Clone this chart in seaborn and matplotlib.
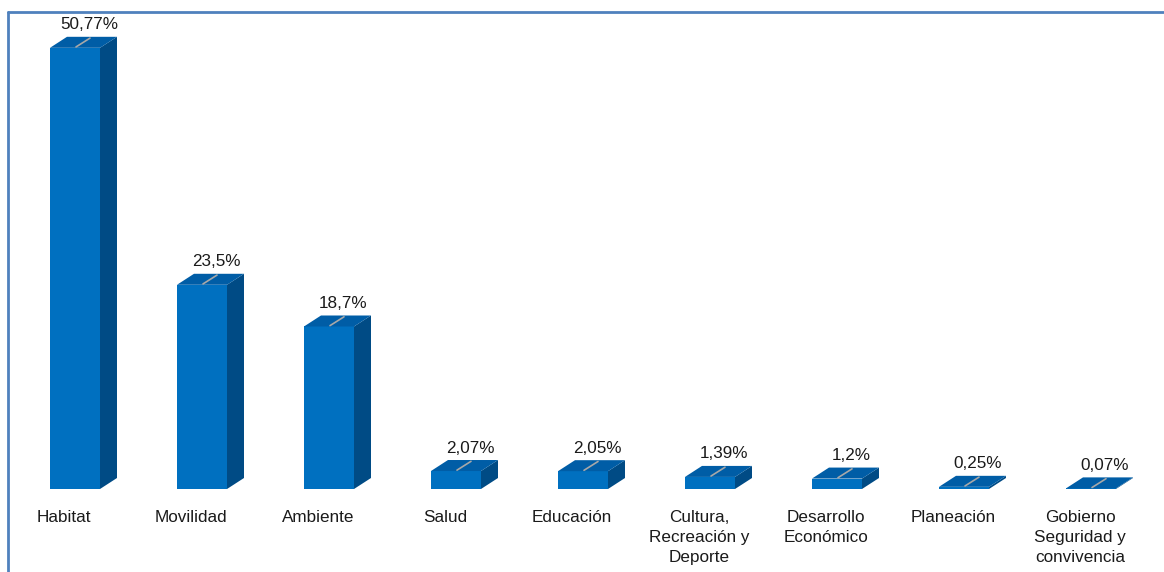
import matplotlib
matplotlib.use("Agg")
import matplotlib.pyplot as plt
import seaborn as sns
import pandas as pd
from matplotlib.patches import Polygon
from matplotlib.lines import Line2D

# data
categorias = ["Habitat", "Movilidad", "Ambiente", "Salud", "Educación",
              "Cultura,\nRecreación y\nDeporte", "Desarrollo\nEconómico",
              "Planeación", "Gobierno\nSeguridad y\nconvivencia"]
valores = [50.77, 23.5, 18.7, 2.07, 2.05, 1.39, 1.2, 0.25, 0.07]
etiquetas = ["50,77%", "23,5%", "18,7%", "2,07%", "2,05%", "1,39%", "1,2%", "0,25%", "0,07%"]

df = pd.DataFrame({"sector": categorias, "pct": valores})

sns.set_theme(style="white")
plt.rcParams["font.family"] = ["Liberation Sans", "DejaVu Sans"]

W, H = 1164, 572
fig = plt.figure(figsize=(W / 100, H / 100), dpi=100)
ax = fig.add_axes([0, 0, 1, 1])

# pixel geometry -> data units
step = 127.0          # px between bars
x0 = 75.0             # px centre of first bar
base = 489.0          # px baseline
ppu = 8.69            # px per percentage point

front = "#0070C0"
side = "#004B85"
top = "#005DA6"

sns.barplot(data=df, x="sector", y="pct", color=front, saturation=1,
            width=50 / step, linewidth=0, ax=ax)
ax.set_xlim(-x0 / step, (W - x0) / step)
ax.set_ylim(-(H - base) / ppu, base / ppu)
ax.axis("off")

dx = 17 / step
dy = 11 / ppu
fs = 12.3
for i, p in enumerate(ax.patches):
    xl = p.get_x()
    w = p.get_width()
    h = p.get_height()
    xr = xl + w
    ax.add_patch(Polygon([(xr, 0), (xr + dx, dy), (xr + dx, h + dy), (xr, h)],
                         closed=True, facecolor=side, edgecolor="none", zorder=3))
    ax.add_patch(Polygon([(xl, h), (xl + dx, h + dy), (xr + dx, h + dy), (xr, h)],
                         closed=True, facecolor=top, edgecolor="none", zorder=3))
    cx = xl + w / 2
    ax.plot([cx + 1 / step, cx + dx - 2 / step], [h + 0.1, h + dy - 0.15],
            color="#A8A8A8", lw=1.2, zorder=4)
    ax.text(cx + 14 / step, h + dy + 12 / ppu, etiquetas[i], ha="center", va="center",
            fontsize=fs, color="#1a1a1a", zorder=5)
    ax.text(cx - 11 / step, -21.5 / ppu, categorias[i], ha="center", va="top",
            fontsize=fs, color="#1a1a1a", linespacing=1.38)

# outer frame (cut at right/bottom like the screenshot)
frame = "#4F81BD"
fig.add_artist(Line2D([7.5 / W, 1.0], [1 - 12 / H, 1 - 12 / H], color=frame, lw=2,
                      transform=fig.transFigure))
fig.add_artist(Line2D([7.5 / W, 7.5 / W], [0.0, 1 - 12 / H], color=frame, lw=2,
                      transform=fig.transFigure))

fig.savefig("out.png", dpi=100, facecolor="white")
